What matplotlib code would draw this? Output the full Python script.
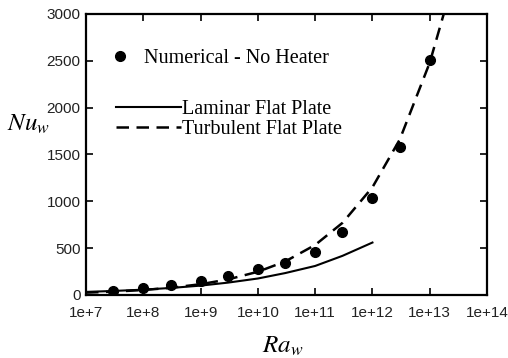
import matplotlib
matplotlib.use("Agg")
import matplotlib.pyplot as plt
from matplotlib.lines import Line2D

# numerical results (no heater)
ra_num = [3e7, 1e8, 3e8, 1e9, 3e9, 1e10, 3e10, 1e11, 3e11, 1e12, 3e12, 1e13]
nu_num = [46, 71, 103, 146, 206, 274, 338, 462, 669, 1040, 1583, 2508]

# flat plate correlations
ra_lam = [1e7, 3e7, 1e8, 3e8, 1e9, 3e9, 1e10, 3e10, 1e11, 3e11, 1e12]
nu_lam = [33, 43, 57, 75, 100, 132, 176, 234, 310, 418, 560]
ra_turb = [1e7, 3e7, 1e8, 3e8, 1e9, 3e9, 1e10, 3e10, 1e11, 3e11, 1e12, 3e12, 1e13, 2e13]
nu_turb = [25, 36, 53, 77, 115, 166, 248, 358, 534, 770, 1150, 1660, 2480, 3120]

xticks = [1e7, 1e8, 1e9, 1e10, 1e11, 1e12, 1e13, 1e14]
xlabels = ["1e+7", "1e+8", "1e+9", "1e+10", "1e+11", "1e+12", "1e+13", "1e+14"]
yticks = [0, 500, 1000, 1500, 2000, 2500, 3000]

plt.rcParams["mathtext.fontset"] = "stix"

fig = plt.figure(figsize=(5.08, 3.58), dpi=100)
ax = fig.add_axes([0.1693, 0.176, 0.7894, 0.785])

ax.plot(ra_lam, nu_lam, color="black", lw=1.5)
ax.plot(ra_turb, nu_turb, color="black", lw=1.8, dashes=(5, 3))
ax.plot(ra_num, nu_num, "o", color="black", ms=7)

ax.set_xscale("log")
ax.set_xlim(1e7, 1e14)
ax.set_ylim(0, 3000)
ax.set_xticks(xticks)
ax.set_xticklabels(xlabels)
ax.set_yticks(yticks)
ax.minorticks_off()
for lbl in ax.get_xticklabels() + ax.get_yticklabels():
    lbl.set_fontfamily("Liberation Sans")
    lbl.set_fontsize(11)
ax.tick_params(direction="in", top=True, right=True, length=5, width=1.2,
               labelcolor="#222222", pad=4)
ax.tick_params(axis="x", pad=8)
for s in ax.spines.values():
    s.set_linewidth(1.6)

ax.text(-0.197, 0.61, r"$Nu_w$", transform=ax.transAxes, fontsize=18,
        ha="left", va="center")
ax.text(0.49, -0.18, r"$Ra_w$", transform=ax.transAxes, fontsize=18,
        ha="center", va="center")

serif = {"family": "Liberation Serif", "size": 14.5}
leg1 = ax.legend([Line2D([], [], ls="none", marker="o", color="black", ms=7)],
                 ["Numerical - No Heater"], loc="upper left", frameon=False,
                 bbox_to_anchor=(0.01, 0.939), prop=serif, handlelength=1.2,
                 handletextpad=0.6)
ax.add_artist(leg1)
ax.legend([Line2D([], [], color="black", lw=1.5),
           Line2D([], [], color="black", lw=1.8, dashes=(5, 3))],
          ["Laminar Flat Plate", "Turbulent Flat Plate"], loc="upper left",
          frameon=False, bbox_to_anchor=(0.03, 0.757), prop=serif,
          handlelength=3.2, handletextpad=0.05, labelspacing=0.0)

fig.savefig("out.png", dpi=100)
